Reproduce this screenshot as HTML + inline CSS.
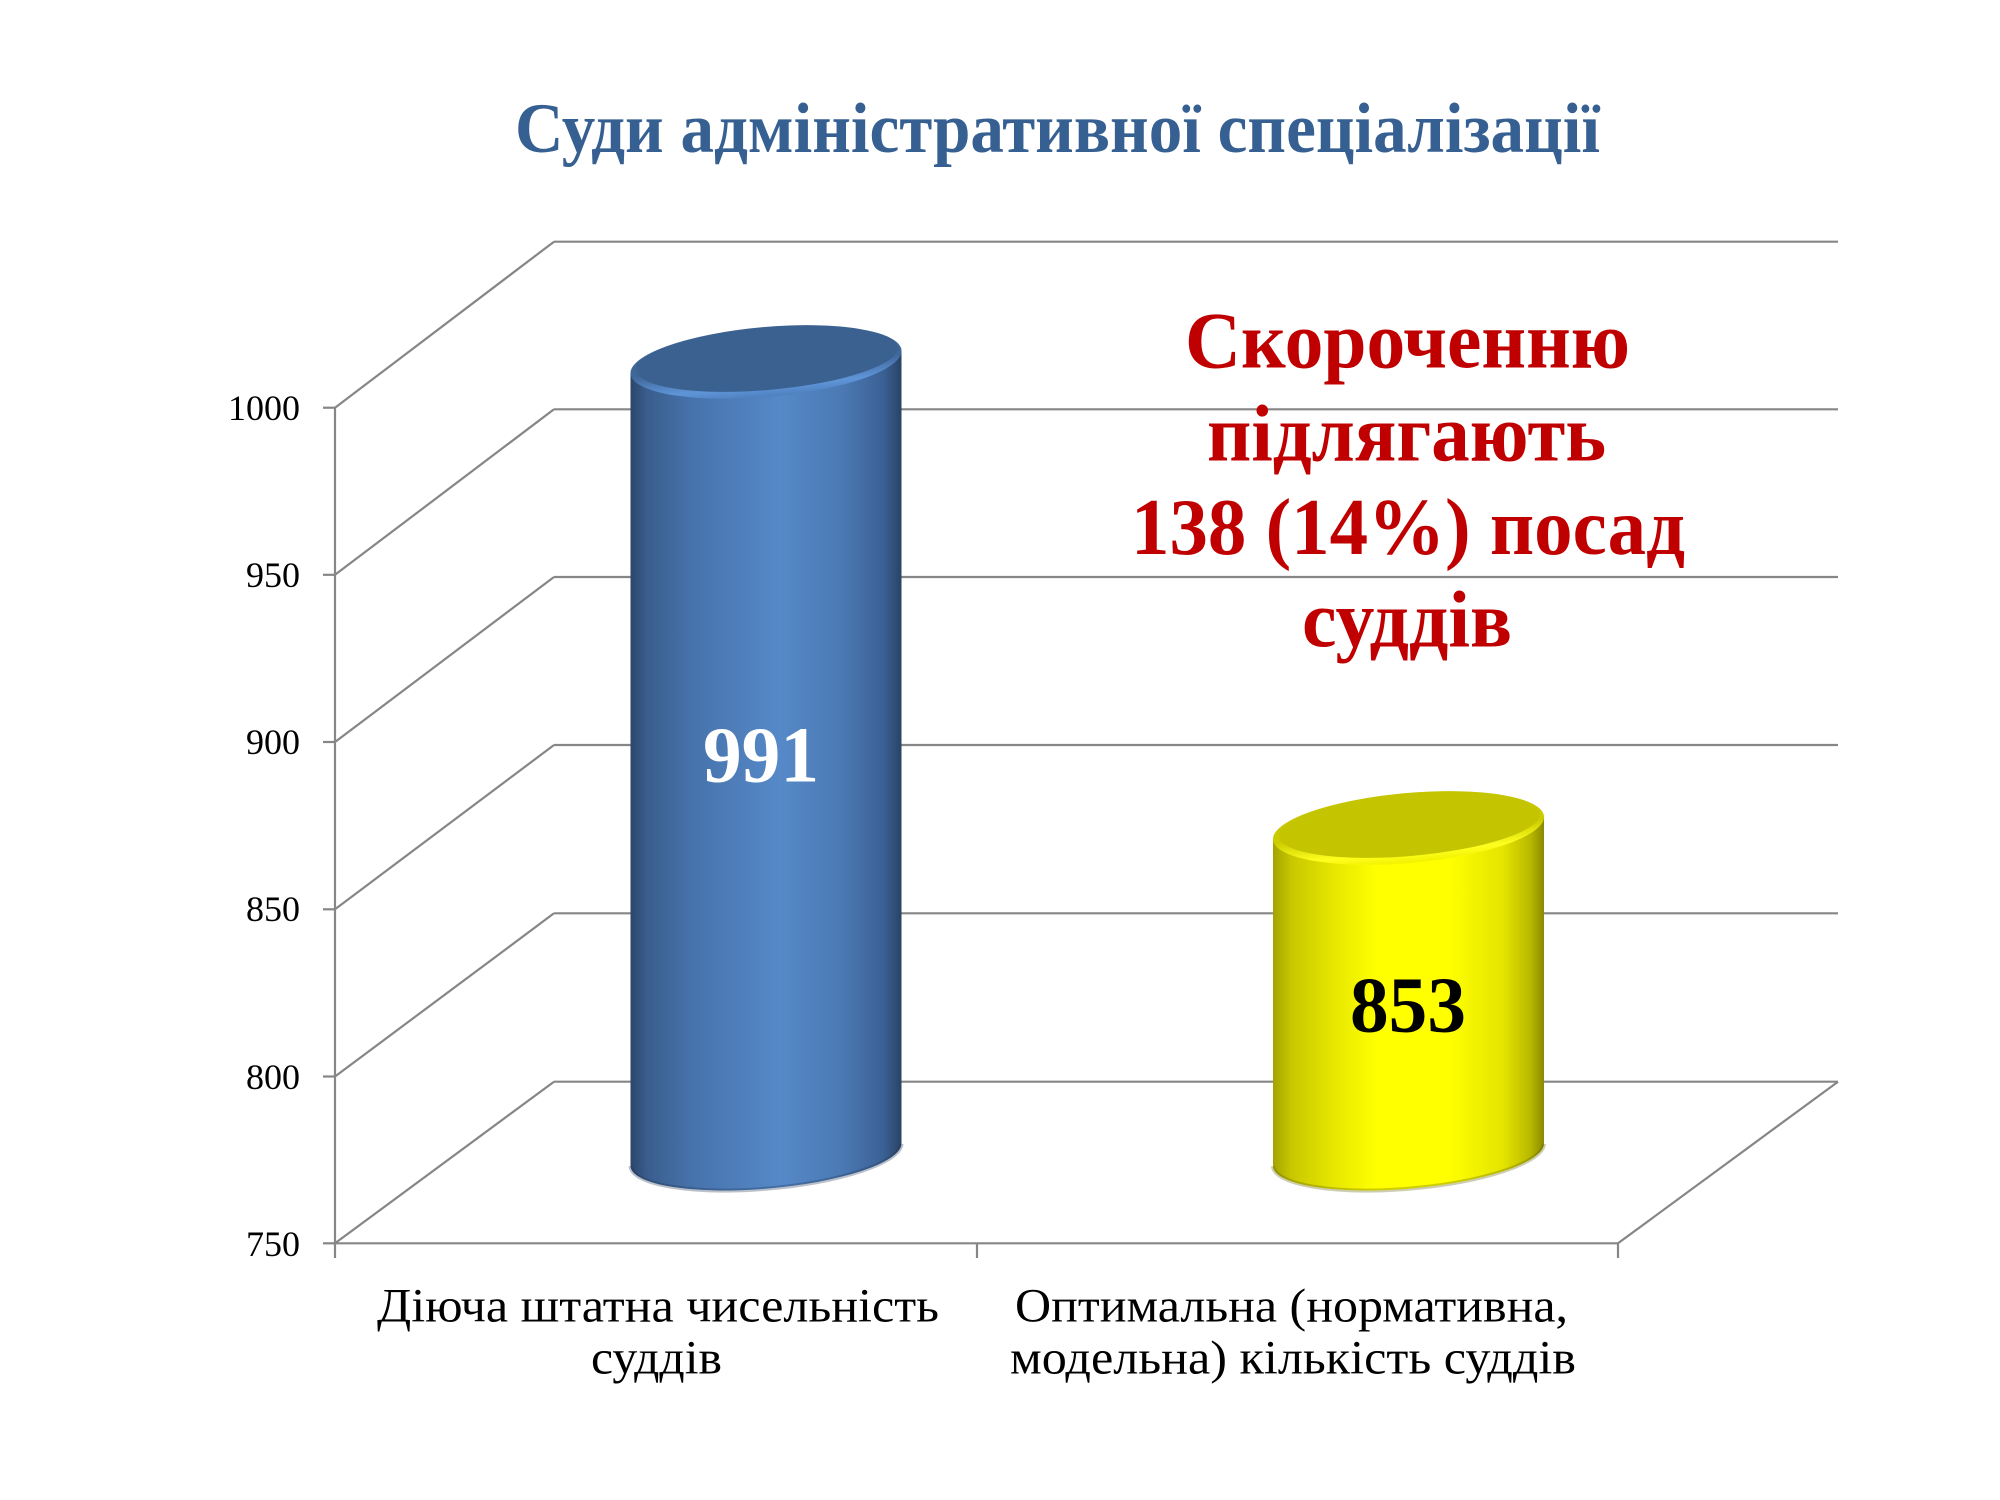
<!DOCTYPE html>
<html>
<head>
<meta charset="utf-8">
<style>
  html, body { margin:0; padding:0; background:#ffffff; }
  body { width:2000px; height:1500px; overflow:hidden; }
  svg { display:block; }
  text { font-family: "Liberation Serif", "DejaVu Serif", serif; }
</style>
</head>
<body>
<svg width="2000" height="1500" viewBox="0 0 2000 1500" xmlns="http://www.w3.org/2000/svg">
  <defs>
    <linearGradient id="blueBody" gradientUnits="userSpaceOnUse" x1="630.5" y1="0" x2="901.5" y2="0">
      <stop offset="0" stop-color="#2B466B"/>
      <stop offset="0.06" stop-color="#395D8C"/>
      <stop offset="0.22" stop-color="#4672AA"/>
      <stop offset="0.55" stop-color="#5689C8"/>
      <stop offset="0.78" stop-color="#4B79B3"/>
      <stop offset="0.93" stop-color="#3B6296"/>
      <stop offset="1" stop-color="#2A4366"/>
    </linearGradient>
    <linearGradient id="yellowBody" gradientUnits="userSpaceOnUse" x1="1273" y1="0" x2="1544" y2="0">
      <stop offset="0" stop-color="#A3A300"/>
      <stop offset="0.07" stop-color="#C8C800"/>
      <stop offset="0.22" stop-color="#E6E600"/>
      <stop offset="0.38" stop-color="#FFFF00"/>
      <stop offset="0.65" stop-color="#FFFF00"/>
      <stop offset="0.85" stop-color="#E4E400"/>
      <stop offset="0.95" stop-color="#B8B800"/>
      <stop offset="1" stop-color="#8A8A00"/>
    </linearGradient>
    <linearGradient id="blueRim" x1="0" y1="0" x2="0" y2="1">
      <stop offset="0" stop-color="#3B6190"/>
      <stop offset="0.55" stop-color="#3F6799"/>
      <stop offset="0.85" stop-color="#5F95D8"/>
      <stop offset="1" stop-color="#4E80BF"/>
    </linearGradient>
    <linearGradient id="yellowRim" x1="0" y1="0" x2="0" y2="1">
      <stop offset="0" stop-color="#C4C400"/>
      <stop offset="0.55" stop-color="#CCCC00"/>
      <stop offset="0.85" stop-color="#FFFF20"/>
      <stop offset="1" stop-color="#F2F200"/>
    </linearGradient>
  </defs>

  <!-- Title -->
  <text x="515" y="152" font-size="71" font-weight="bold" fill="#376092" textLength="1085" lengthAdjust="spacingAndGlyphs">Суди адміністративної спеціалізації</text>

  <!-- Grid -->
  <g stroke="#868686" stroke-width="2.2" fill="none">
    <line x1="554" y1="241.7" x2="1838" y2="241.7"/>
    <line x1="554" y1="409.3" x2="1838" y2="409.3"/>
    <line x1="554" y1="577" x2="1838" y2="577"/>
    <line x1="554" y1="745" x2="1838" y2="745"/>
    <line x1="554" y1="913.3" x2="1838" y2="913.3"/>
    <line x1="554" y1="1081.7" x2="1838" y2="1081.7"/>
    <line x1="335" y1="407.7" x2="554" y2="241.7"/>
    <line x1="335" y1="574.8" x2="554" y2="409.3"/>
    <line x1="335" y1="742" x2="554" y2="577"/>
    <line x1="335" y1="909.3" x2="554" y2="745"/>
    <line x1="335" y1="1076.5" x2="554" y2="913.3"/>
    <line x1="335" y1="1243.3" x2="554" y2="1081.7"/>
    <line x1="1618" y1="1243.3" x2="1838" y2="1081.7"/>
    <line x1="335" y1="1243.3" x2="1618" y2="1243.3"/>
    <line x1="335" y1="407.7" x2="335" y2="1258"/>
    <line x1="323" y1="407.7" x2="335" y2="407.7"/>
    <line x1="323" y1="574.8" x2="335" y2="574.8"/>
    <line x1="323" y1="742" x2="335" y2="742"/>
    <line x1="323" y1="909.3" x2="335" y2="909.3"/>
    <line x1="323" y1="1076.5" x2="335" y2="1076.5"/>
    <line x1="323" y1="1243.3" x2="335" y2="1243.3"/>
    <line x1="977" y1="1243.3" x2="977" y2="1258"/>
    <line x1="1618" y1="1243.3" x2="1618" y2="1258"/>
  </g>

  <!-- Y labels -->
  <g font-size="36" fill="#000" text-anchor="end">
    <text x="300" y="420">1000</text>
    <text x="300" y="587">950</text>
    <text x="300" y="754">900</text>
    <text x="300" y="921">850</text>
    <text x="300" y="1089">800</text>
    <text x="300" y="1256">750</text>
  </g>

  <!-- Blue cylinder -->
  <path d="M630.5,374.1 L630.5,1166.1 A136,34.1 -5 0 0 901.5,1143.9 L901.5,351.9 A136,34.1 -5 0 0 630.5,374.1 Z" fill="url(#blueBody)"/>
  <path d="M630.5,1166.1 A136,34.1 -5 0 0 901.5,1143.9" fill="none" stroke="#1F3350" stroke-opacity="0.3" stroke-width="4"/>
  <ellipse cx="766" cy="362" rx="136" ry="35" transform="rotate(-5 766 362)" fill="url(#blueRim)"/>
  <ellipse cx="767" cy="359" rx="131" ry="31" transform="rotate(-5 767 359)" fill="#3B6190"/>

  <!-- Yellow cylinder -->
  <path d="M1273,840.1 L1273,1166.1 A136,34.1 -5 0 0 1544,1143.9 L1544,817.9 A136,34.1 -5 0 0 1273,840.1 Z" fill="url(#yellowBody)"/>
  <path d="M1273,1166.1 A136,34.1 -5 0 0 1544,1143.9" fill="none" stroke="#5A5A00" stroke-opacity="0.3" stroke-width="4"/>
  <ellipse cx="1408.5" cy="828" rx="136" ry="35" transform="rotate(-5 1408.5 828)" fill="url(#yellowRim)"/>
  <ellipse cx="1409.5" cy="825" rx="131" ry="31" transform="rotate(-5 1409.5 825)" fill="#C4C400"/>

  <!-- Bar labels -->
  <text x="703" y="781.7" font-size="79" font-weight="bold" fill="#ffffff" textLength="116" lengthAdjust="spacingAndGlyphs">991</text>
  <text x="1350" y="1031.7" font-size="79" font-weight="bold" fill="#000000" textLength="116" lengthAdjust="spacingAndGlyphs">853</text>

  <!-- Red annotation -->
  <g font-size="80" font-weight="bold" fill="#C00000">
    <text x="1185" y="367.7" textLength="445" lengthAdjust="spacingAndGlyphs">Скороченню</text>
    <text x="1207" y="460.7" textLength="399" lengthAdjust="spacingAndGlyphs">підлягають</text>
    <text x="1131" y="554" textLength="554" lengthAdjust="spacingAndGlyphs">138 (14%) посад</text>
    <text x="1302" y="646.7" textLength="210" lengthAdjust="spacingAndGlyphs">суддів</text>
  </g>

  <!-- Category labels -->
  <g font-size="48" fill="#000">
    <text x="377" y="1321.7" textLength="562" lengthAdjust="spacingAndGlyphs">Діюча штатна чисельність</text>
    <text x="591" y="1373.3" textLength="131" lengthAdjust="spacingAndGlyphs">суддів</text>
    <text x="1015" y="1321.7" textLength="553" lengthAdjust="spacingAndGlyphs">Оптимальна (нормативна,</text>
    <text x="1010" y="1373.3" textLength="566" lengthAdjust="spacingAndGlyphs">модельна) кількість суддів</text>
  </g>
</svg>
</body>
</html>
